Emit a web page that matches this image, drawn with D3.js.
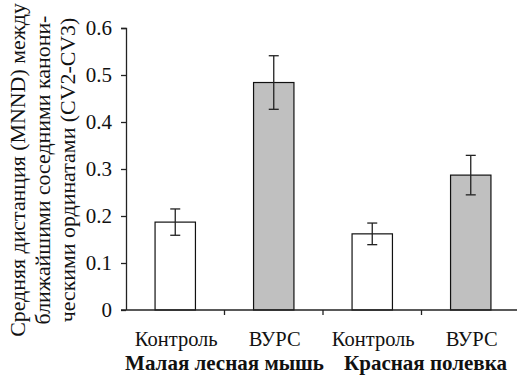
<!DOCTYPE html>
<html>
<head>
<meta charset="utf-8">
<script src="https://cdn.jsdelivr.net/npm/d3@7"></script>
<style>
  body { margin: 0; background: #fff; }
  svg { display: block; }
</style>
</head>
<body>
<div id="chart"></div>
<script>
// Data
const categories = ["Контроль", "ВУРС", "Контроль", "ВУРС"];
const groups = ["Малая лесная мышь", "Красная полевка"];
const values = [0.187, 0.484, 0.162, 0.287];
const errors = [0.028, 0.057, 0.023, 0.042];
const fills = ["#ffffff", "#c0c0c0", "#ffffff", "#c0c0c0"];
const yTicks = [0, 0.1, 0.2, 0.3, 0.4, 0.5, 0.6];
const yTitle = [
  "Средняя дистанция (MNND) между",
  "ближайшими соседними канони-",
  "ческими ординатами (CV2-CV3)"
];

const width = 517, height = 379;
const margin = { left: 126, right: -3, top: 28, bottom: 69 };
const font = "'Liberation Serif', 'Times New Roman', serif";

const svg = d3.select("#chart").append("svg")
  .attr("width", width)
  .attr("height", height);

const ctrW = width - margin.left - margin.right;
const ctrH = height - margin.top - margin.bottom;

const ctr = svg.append("g")
  .attr("transform", `translate(${margin.left}, ${margin.top})`);

// Scales
const xScale = d3.scaleBand()
  .domain(d3.range(categories.length))
  .range([0, ctrW])
  .paddingInner(0.59)
  .paddingOuter(0.295);

const yScale = d3.scaleLinear().domain([0, 0.6]).range([ctrH, 0]);

// Bars
ctr.selectAll("rect.bar")
  .data(values)
  .enter()
  .append("rect")
  .attr("class", "bar")
  .attr("x", (d, i) => xScale(i))
  .attr("y", d => yScale(d))
  .attr("width", xScale.bandwidth())
  .attr("height", d => ctrH - yScale(d))
  .attr("fill", (d, i) => fills[i])
  .attr("stroke", "#111")
  .attr("stroke-width", 1.2);

// Error bars
const capW = 10;
const err = ctr.selectAll("g.err")
  .data(values)
  .enter()
  .append("g")
  .attr("class", "err")
  .attr("stroke", "#222")
  .attr("stroke-width", 1.3);

err.append("line")
  .attr("x1", (d, i) => xScale(i) + xScale.bandwidth() / 2)
  .attr("x2", (d, i) => xScale(i) + xScale.bandwidth() / 2)
  .attr("y1", (d, i) => yScale(d + errors[i]))
  .attr("y2", (d, i) => yScale(d - errors[i]));
err.append("line")
  .attr("x1", (d, i) => xScale(i) + xScale.bandwidth() / 2 - capW / 2)
  .attr("x2", (d, i) => xScale(i) + xScale.bandwidth() / 2 + capW / 2)
  .attr("y1", (d, i) => yScale(d + errors[i]))
  .attr("y2", (d, i) => yScale(d + errors[i]));
err.append("line")
  .attr("x1", (d, i) => xScale(i) + xScale.bandwidth() / 2 - capW / 2)
  .attr("x2", (d, i) => xScale(i) + xScale.bandwidth() / 2 + capW / 2)
  .attr("y1", (d, i) => yScale(d - errors[i]))
  .attr("y2", (d, i) => yScale(d - errors[i]));

// Y axis
const yAxis = d3.axisLeft(yScale)
  .tickValues(yTicks)
  .tickFormat(d => d === 0 ? "0" : d3.format(".1f")(d))
  .tickSize(5)
  .tickPadding(9);

const yAxisGroup = ctr.append("g").call(yAxis);
yAxisGroup.select(".domain").attr("d", `M-5,0.5H0.5V${ctrH}`);
yAxisGroup.selectAll("path, line").attr("stroke", "#222").attr("stroke-width", 1.3);
yAxisGroup.selectAll("text")
  .style("font-family", font)
  .style("font-size", "21px")
  .attr("fill", "#111");

// X axis line with tick marks between categories
const step = xScale.step();
const xAxisGroup = ctr.append("g").attr("transform", `translate(0, ${ctrH})`);
xAxisGroup.append("line")
  .attr("x1", -5).attr("x2", ctrW)
  .attr("y1", 0).attr("y2", 0);
xAxisGroup.selectAll("line.tk")
  .data(d3.range(1, categories.length))
  .enter()
  .append("line")
  .attr("class", "tk")
  .attr("x1", d => d * step).attr("x2", d => d * step)
  .attr("y1", 0).attr("y2", 5);
xAxisGroup.selectAll("line").attr("stroke", "#222").attr("stroke-width", 1.3);

// Category labels
xAxisGroup.selectAll("text.cat")
  .data(categories)
  .enter()
  .append("text")
  .attr("class", "cat")
  .attr("x", (d, i) => xScale(i) + xScale.bandwidth() / 2 + 1)
  .attr("y", 35.5)
  .attr("text-anchor", "middle")
  .style("font-family", font)
  .style("font-size", "20.5px")
  .attr("fill", "#111")
  .text(d => d);

// Group labels
xAxisGroup.selectAll("text.grp")
  .data(groups)
  .enter()
  .append("text")
  .attr("class", "grp")
  .attr("x", (d, i) => (i * 2 + 1) * step + i * 4)
  .attr("y", 59.5)
  .attr("text-anchor", "middle")
  .style("font-family", font)
  .style("font-size", "21px")
  .style("font-weight", "bold")
  .attr("fill", "#111")
  .text(d => d);

// Y title
const title = svg.append("text")
  .attr("transform", "translate(0, 170) rotate(-90)")
  .attr("text-anchor", "middle")
  .style("font-family", font)
  .style("font-size", "20px")
  .attr("fill", "#111");

title.selectAll("tspan")
  .data(yTitle)
  .enter()
  .append("tspan")
  .attr("x", 0)
  .attr("y", (d, i) => 25 + i * 25)
  .text(d => d);

// fit first line to the length seen in the reference
const len = title.select("tspan").node().getComputedTextLength();
title.style("font-size", (20 * 334 / len).toFixed(2) + "px");
</script>
</body>
</html>
